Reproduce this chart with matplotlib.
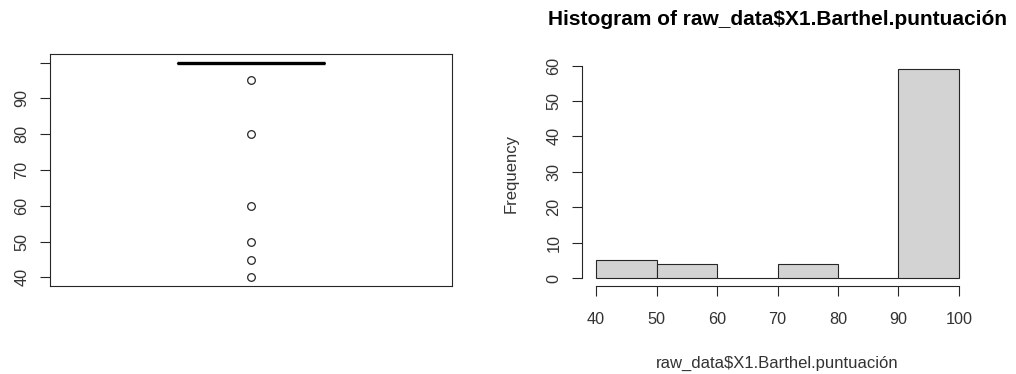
import numpy as np
import matplotlib
matplotlib.use("Agg")
from matplotlib import pyplot as plt

plt.rcParams['font.family'] = ['Liberation Sans', 'DejaVu Sans']

# boxplot summary of raw_data$X1.Barthel.puntuacion
box_median = 100
box_q1 = 100
box_q3 = 100
box_whislo = 100
box_whishi = 100
outliers = [95, 80, 60, 50, 45, 40]
box_ticks = [40, 50, 60, 70, 80, 90, 100]
box_ticklabels = ['40', '50', '60', '70', '80', '90', '']

# histogram
bin_edges = [40, 50, 60, 70, 80, 90, 100]
counts = [5, 4, 0, 4, 0, 59]
hist_yticks = [0, 10, 20, 30, 40, 50, 60]

title = 'Histogram of raw_data$X1.Barthel.puntuación'
xlabel = 'raw_data$X1.Barthel.puntuación'
ylabel = 'Frequency'

line_col = '#262626'
text_col = '#333333'
tick_size = 11.7
W, H = 1016, 374
fig = plt.figure(figsize=(W / 100, H / 100), dpi=100)

# ---- left: boxplot
ax1 = fig.add_axes([50 / W, 1 - 286 / H, 402 / W, 232 / H])
stats = [dict(med=box_median, q1=box_q1, q3=box_q3, whislo=box_whislo,
              whishi=box_whishi, fliers=outliers)]
ax1.bxp(stats, positions=[1], widths=0.37, showfliers=True,
        medianprops=dict(color='black', linewidth=2.4, solid_capstyle='butt'),
        boxprops=dict(color=line_col, linewidth=0.8),
        whiskerprops=dict(color=line_col, linewidth=0.8, linestyle='--'),
        capprops=dict(color=line_col, linewidth=0.8),
        flierprops=dict(marker='o', markersize=5.5, markerfacecolor='none',
                        markeredgecolor=line_col, markeredgewidth=0.9))
ax1.set_xlim(0.5, 1.5)
lo, hi = min(outliers), box_whishi
pad = (hi - lo) * 0.04
ax1.set_ylim(lo - pad, hi + pad)
ax1.set_xticks([])
ax1.set_yticks(box_ticks)
ax1.set_yticklabels(box_ticklabels, rotation=90, va='center')
ax1.tick_params(axis='y', length=7, width=0.8, color=line_col, pad=8,
                labelsize=tick_size, labelcolor=text_col)
for s in ax1.spines.values():
    s.set_color(line_col)
    s.set_linewidth(0.8)

# ---- right: histogram
ax2 = fig.add_axes([581.5 / W, 1 - 286.4 / H, 392 / W, 225.6 / H])
ax2.bar(bin_edges[:-1], counts, width=np.diff(bin_edges), align='edge',
        facecolor='#d3d3d3', edgecolor=line_col, linewidth=0.8)
xpad = (bin_edges[-1] - bin_edges[0]) * 0.04
ypad = max(counts) * 0.04
ax2.set_xlim(bin_edges[0] - xpad, bin_edges[-1] + xpad)
ax2.set_ylim(-ypad, max(counts) + ypad)
ax2.set_xticks(bin_edges)
ax2.set_yticks(hist_yticks)
ax2.set_yticklabels([str(v) for v in hist_yticks], rotation=90, va='center')
for side in ('top', 'right'):
    ax2.spines[side].set_visible(False)
ax2.spines['bottom'].set_bounds(bin_edges[0], bin_edges[-1])
ax2.spines['left'].set_bounds(hist_yticks[0], hist_yticks[-1])
for side in ('bottom', 'left'):
    ax2.spines[side].set_color(line_col)
    ax2.spines[side].set_linewidth(0.8)
ax2.tick_params(axis='y', length=7, width=0.8, color=line_col, pad=7.5,
                labelsize=tick_size, labelcolor=text_col)
ax2.tick_params(axis='x', length=7, width=0.8, color=line_col, pad=11.5,
                labelsize=tick_size, labelcolor=text_col)
ax2.set_title(title, fontsize=15, fontweight='bold', pad=26)
ax2.set_xlabel(xlabel, fontsize=12, color=text_col, labelpad=21)
ax2.set_ylabel(ylabel, fontsize=12, color=text_col, labelpad=20)

fig.savefig('out.png', dpi=100)
